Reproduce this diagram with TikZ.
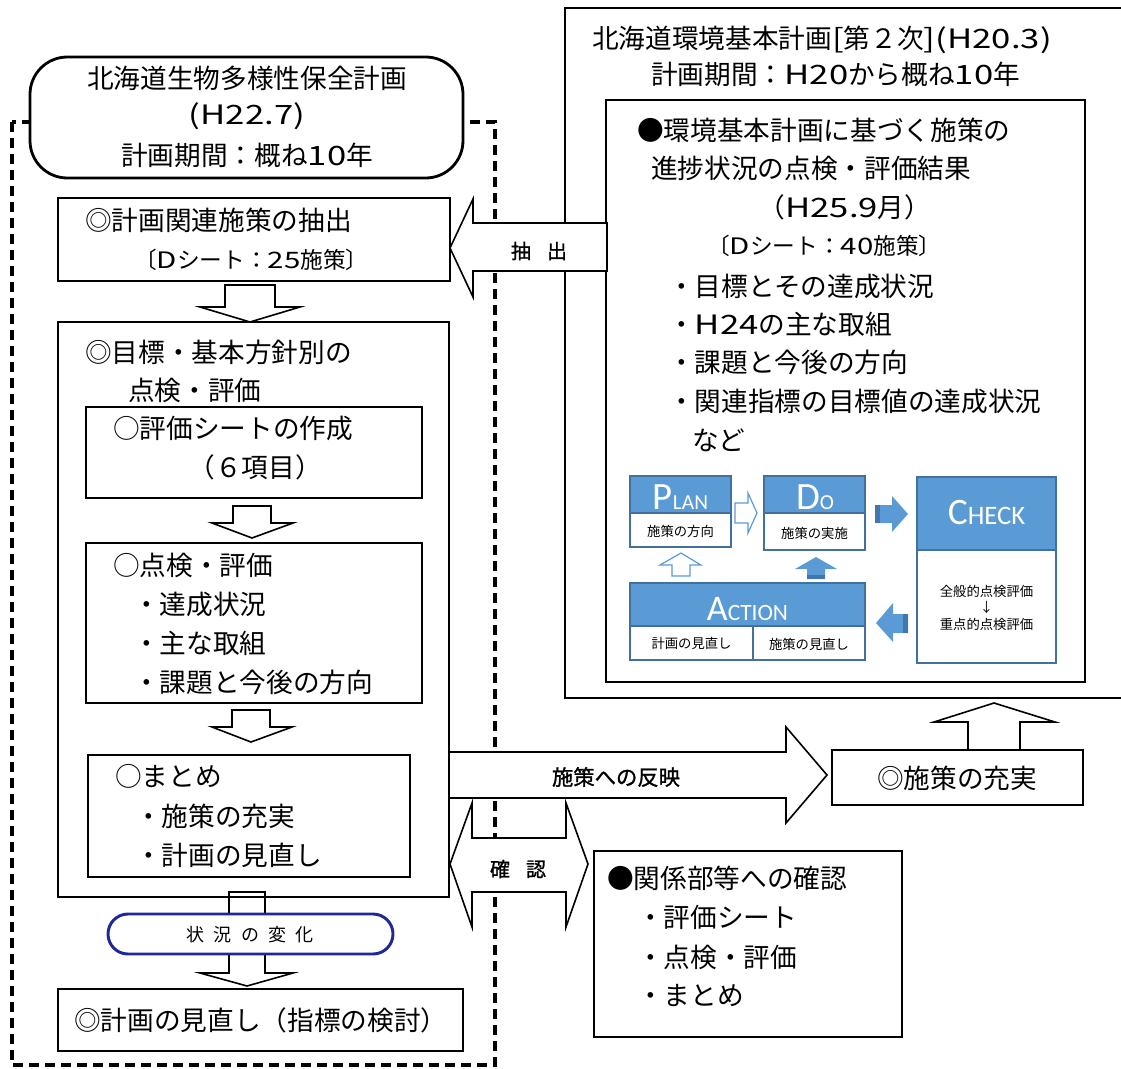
\documentclass[tikz,border=0pt]{standalone}
\usepackage{fontspec}
\setmainfont{Noto Sans CJK JP}
\newfontfamily\pdcafont{Carlito}
\newfontfamily\widelat{Noto Sans CJK JP}[FakeStretch=1.3]
\newfontfamily\jpbold{Noto Sans CJK JP}[FakeBold=1.2]
\newcommand{\wl}[1]{{\widelat #1}}
\usetikzlibrary{fit}
\definecolor{pblue}{RGB}{91,155,213}
\definecolor{pcb}{RGB}{65,113,156}
\definecolor{pdark}{RGB}{66,118,175}
\definecolor{ovalblue}{RGB}{30,40,150}
\begin{document}
\begin{tikzpicture}[x=0.75pt,y=-0.75pt,
  box/.style={draw, line width=2.1pt, inner sep=0pt},
  barrow/.style={draw, line width=1.2pt, fill=white, line join=miter},
  jt/.style={inner sep=0pt, anchor=west, font=\fontsize{20}{24}\selectfont},
  jc/.style={inner sep=0pt, anchor=center, font=\fontsize{20}{24}\selectfont},
  js/.style={inner sep=0pt, anchor=west, font=\fontsize{17}{20}\selectfont},
  lbl/.style={inner sep=0pt, anchor=center, font=\jpbold\fontsize{15}{18}\selectfont},
  phead/.style={fill=pblue, draw=pcb, line width=0.9pt, inner sep=0pt},
  pbody/.style={fill=white, draw=pcb, line width=0.9pt, inner sep=0pt},
  ptitle/.style={inner sep=0pt, anchor=base, text=white},
  ptxt/.style={inner sep=0pt, anchor=center, font=\fontsize{10}{12}\selectfont},
  dashframe/.style={draw, line width=2.4pt, dash pattern=on 7.5pt off 4.5pt}
]
\useasboundingbox (0,0) rectangle (1121,1068);

% dashed frame (left)
\draw[dashframe] (12,122) rectangle (495,1065);

% right big box and inner box
\node[box, fit={(565,8) (1135,698)}] (big) {};
\node[box, fit={(606,100) (1085,682)}] (inner) {};

% block arrows (white filled)
\draw[barrow] (607,223) -- (473,223) -- (473,199) -- (450,248) -- (473,297) -- (473,271) -- (607,271) -- cycle;
\draw[barrow] (449,752) -- (786,752) -- (786,727) -- (827,775) -- (786,823) -- (786,798) -- (449,798) -- cycle;
\draw[barrow] (450,864) -- (472,803) -- (472,838) -- (566,838) -- (566,803) -- (588,864) -- (566,927) -- (566,892) -- (472,892) -- (472,927) -- cycle;
\draw[barrow] (968,750) -- (968,722) -- (934,722) -- (994,703) -- (1055,722) -- (1020,722) -- (1020,750) -- cycle;
\draw[barrow] (225,285) -- (275,285) -- (275,307) -- (300,307) -- (250,322) -- (200,307) -- (225,307) -- cycle;
\draw[barrow] (233,506) -- (271,506) -- (271,523) -- (293,523) -- (252,538) -- (212,523) -- (233,523) -- cycle;
\draw[barrow] (232,710) -- (270,710) -- (270,727) -- (292,727) -- (251,742) -- (212,727) -- (232,727) -- cycle;
\draw[barrow] (229,892) -- (265,892) -- (265,973) -- (293,973) -- (247,986) -- (200,973) -- (229,973) -- cycle;

% left boxes
\node[box, fill=white, rounded corners=28pt, fit={(30,57) (463,178)}] (plan) {};
\node[box, fit={(58,198) (450,281)}] (b1) {};
\node[box, fit={(58,322) (449,897)}] (b2) {};
\node[box, fit={(86,407) (422,498)}] (sa) {};
\node[box, fit={(86,543) (422,703)}] (sb) {};
\node[box, fit={(88,755) (410,877)}] (sc) {};
\node[box, fit={(58,989) (463,1051)}] (last) {};
\node[draw=ovalblue, line width=2.2pt, fill=white, inner sep=0pt, rounded corners=15pt, fit={(108,914) (393,954)}] (oval) {};

% right lower boxes
\node[box, fit={(832,750) (1083,805)}] (juji) {};
\node[box, fit={(594,851) (902,1037)}] (kaku) {};

% texts: top-left
\node[jc] (t1) at (247,78) {北海道生物多様性保全計画};
\node[jc] (t2) at (247,116) {\wl{(H22.7)}};
\node[jc] (t3) at (247,155) {計画期間：概ね\wl{10}年};

\node[jt] (t4) at (85,220) {◎計画関連施策の抽出};
\node[js] (t5) at (134,260) {〔\wl{D}シート：\wl{25}施策〕};

\node[jt] (t6) at (85,352) {◎目標・基本方針別の};
\node[jt] (t7) at (128,390) {点検・評価};
\node[jt] (t8) at (113,428) {○評価シートの作成};
\node[jc] (t9) at (255,467) {（６項目）};
\node[jt] (t10) at (113,565) {○点検・評価};
\node[jt] (t11) at (133,604) {・達成状況};
\node[jt] (t12) at (133,643) {・主な取組};
\node[jt] (t13) at (133,682) {・課題と今後の方向};
\node[jt] (t14) at (115,776) {○まとめ};
\node[jt] (t15) at (135,816) {・施策の充実};
\node[jt] (t16) at (135,855) {・計画の見直し};
\node[inner sep=0pt, font=\fontsize{13.5}{16}\selectfont] (t17) at (250,935) {状\hspace{7pt}況\hspace{7pt}の\hspace{7pt}変\hspace{7pt}化};
\node[jt] (t18) at (74,1020) {◎計画の見直し（指標の検討）};

% arrow labels
\node[lbl] (l1) at (539,251) {抽\hspace{12pt}出};
\node[lbl, font=\jpbold\fontsize{16}{18}\selectfont] (l2) at (616,777) {施策への反映};
\node[lbl] (l3) at (518,869) {確\hspace{12pt}認};

% right texts
\node[jt] (r1) at (592,40) {北海道環境基本計画\wl{[}第２次\wl{](H20.3)}};
\node[jt] (r2) at (651,74) {計画期間：\wl{H20}から概ね\wl{10}年};
\node[jt] (r3) at (637,130) {●環境基本計画に基づく施策の};
\node[jt] (r4) at (651,168) {進捗状況の点検・評価結果};
\node[jc] (r5) at (845,207) {（\wl{H25.9}月）};
\node[js] (r6) at (707,246) {〔\wl{D}シート：\wl{40}施策〕};
\node[jt] (r7) at (668,286) {・目標とその達成状況};
\node[jt] (r8) at (668,324) {・\wl{H24}の主な取組};
\node[jt] (r9) at (668,362) {・課題と今後の方向};
\node[jt] (r10) at (668,401) {・関連指標の目標値の達成状況};
\node[jt] (r11) at (692,440) {など};

\node[jc] (r12) at (957,778) {◎施策の充実};
\node[jt] (r13) at (607,878) {●関係部等への確認};
\node[jt] (r14) at (637,917) {・評価シート};
\node[jt] (r15) at (637,957) {・点検・評価};
\node[jt] (r16) at (637,996) {・まとめ};

% PDCA boxes
\node[phead, fit={(630,476) (731,513)}] (ph) {};
\node[pbody, fit={(630,513) (731,547)}] (pb) {};
\node[phead, fit={(764,476) (865,513)}] (dh) {};
\node[pbody, fit={(764,513) (865,550)}] (db) {};
\node[phead, fit={(917,477) (1056,550)}] (ch) {};
\node[pbody, fit={(917,550) (1056,663)}] (cb) {};
\node[phead, fit={(630,583) (865,626)}] (ah) {};
\node[pbody, fit={(630,626) (753,660)}] (ab1) {};
\node[pbody, fit={(753,626) (865,660)}] (ab2) {};

\node[ptitle] (pt) at (680.5,509) {\pdcafont\fontsize{29}{29}\selectfont P\fontsize{16}{16}\selectfont LAN};
\node[ptitle] (dt) at (815,509) {\pdcafont\fontsize{29}{29}\selectfont D\fontsize{16}{16}\selectfont O};
\node[ptitle] (ct) at (986.5,524) {\pdcafont\fontsize{28}{28}\selectfont C\fontsize{20}{20}\selectfont HECK};
\node[ptitle] (at) at (747.5,620) {\pdcafont\fontsize{27}{27}\selectfont A\fontsize{17.5}{18}\selectfont CTION};

\node[ptxt] (pd) at (680.5,531) {施策の方向};
\node[ptxt] (dd) at (814.5,533) {施策の実施};
\node[ptxt] (cd1) at (986.5,591) {全般的点検評価};
\node[ptxt] (cd2) at (986.5,607) {↓};
\node[ptxt] (cd3) at (986.5,624) {重点的点検評価};
\node[ptxt] (ad1) at (691.5,643) {計画の見直し};
\node[ptxt] (ad2) at (809,644) {施策の見直し};

% PDCA arrows
\draw[draw=pblue, fill=white, line width=0.9pt] (735,503) -- (748,503) -- (748,493) -- (757,513) -- (748,533) -- (748,523) -- (735,523) -- cycle;
\fill[pblue] (875,505) -- (892,505) -- (892,496) -- (908,514) -- (892,532) -- (892,523) -- (875,523) -- cycle;
\fill[pdark] (875,505) rectangle (880,523);
\fill[pblue] (908,614) -- (893,614) -- (893,603) -- (876,623) -- (893,642) -- (893,633) -- (908,633) -- cycle;
\fill[pdark] (903,614) rectangle (908,633);
\draw[draw=pblue, fill=white, line width=0.9pt] (672,576) -- (672,565) -- (660,565) -- (681,553) -- (701,565) -- (690,565) -- (690,576) -- cycle;
\fill[pblue] (807,579) -- (807,569) -- (795,569) -- (816,557) -- (837,569) -- (825,569) -- (825,579) -- cycle;
\fill[pdark] (807,575) rectangle (825,579);
\end{tikzpicture}
\end{document}
